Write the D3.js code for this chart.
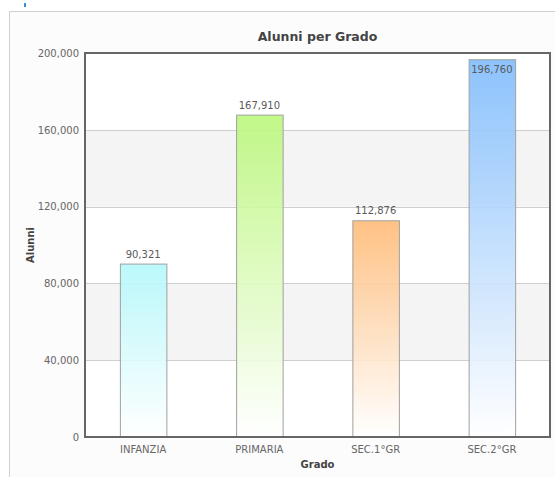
<!DOCTYPE html>
<html>
<head>
<meta charset="utf-8">
<script src="https://cdn.jsdelivr.net/npm/d3@7"></script>
<style>
  body { margin: 0; background: #fff; }
  text { font-family: "DejaVu Sans", Verdana, sans-serif; }
</style>
</head>
<body>
<div id="chart"></div>
<script>
// Data
const categories = ["INFANZIA", "PRIMARIA", "SEC.1°GR", "SEC.2°GR"];
const values = [90321, 167910, 112876, 196760];
const topColors = ["#b4f8fb", "#bbf77c", "#ffbb77", "#80bcfc"];
const yTicks = [0, 40000, 80000, 120000, 160000, 200000];

const width = 555, height = 477;
const plot = { left: 85, right: 550, top: 53, bottom: 437 };

const svg = d3.select("#chart").append("svg")
    .attr("width", width)
    .attr("height", height);

// panel
svg.append("rect")
    .attr("x", 9.5).attr("y", 11.5)
    .attr("width", width).attr("height", height)
    .attr("fill", "#fcfcfc")
    .attr("stroke", "#d0d0d0");
svg.append("rect")
    .attr("x", 24).attr("y", 3).attr("width", 2).attr("height", 4)
    .attr("fill", "#3a8fd8");

const x = d3.scaleBand()
    .domain(categories)
    .range([plot.left, plot.right])
    .paddingInner(0.6)
    .paddingOuter(0.3);

const y = d3.scaleLinear()
    .domain([0, 200000])
    .range([plot.bottom, plot.top]);

// plot background + bands
svg.append("rect")
    .attr("x", plot.left).attr("y", plot.top)
    .attr("width", plot.right - plot.left).attr("height", plot.bottom - plot.top)
    .attr("fill", "#fff");

const bands = [[40000, 80000], [120000, 160000]];
svg.selectAll(".band").data(bands).join("rect")
    .attr("class", "band")
    .attr("x", plot.left)
    .attr("width", plot.right - plot.left)
    .attr("y", d => y(d[1]))
    .attr("height", d => y(d[0]) - y(d[1]))
    .attr("fill", "#f4f4f4");

svg.selectAll(".grid").data(yTicks.slice(1, -1)).join("line")
    .attr("class", "grid")
    .attr("x1", plot.left).attr("x2", plot.right)
    .attr("y1", d => Math.round(y(d)) + 0.5).attr("y2", d => Math.round(y(d)) + 0.5)
    .attr("stroke", "#cfcfcf");

// gradients
const defs = svg.append("defs");
topColors.forEach((c, i) => {
    const g = defs.append("linearGradient")
        .attr("id", "grad" + i)
        .attr("x1", 0).attr("y1", 0).attr("x2", 0).attr("y2", 1);
    g.append("stop").attr("offset", "0%").attr("stop-color", c);
    g.append("stop").attr("offset", "100%").attr("stop-color", "#fff");
});

const data = categories.map((c, i) => ({ cat: c, val: values[i], i }));

svg.selectAll(".bar").data(data).join("rect")
    .attr("class", "bar")
    .attr("x", d => x(d.cat) + 0.5)
    .attr("y", d => y(d.val) + 0.5)
    .attr("width", x.bandwidth())
    .attr("height", d => y(0) - y(d.val))
    .attr("fill", d => `url(#grad${d.i})`)
    .attr("fill-opacity", 0.9)
    .attr("stroke", "#a0a0a0");

svg.selectAll(".lbl").data(data).join("text")
    .attr("class", "lbl")
    .attr("x", d => x(d.cat) + x.bandwidth() / 2)
    .attr("y", d => y(d.val) > plot.top + 20 ? y(d.val) - 6 : y(d.val) + 14)
    .attr("text-anchor", "middle")
    .attr("font-size", 10)
    .attr("fill", "#5a5a5a")
    .text(d => d3.format(",")(d.val));

// frame
svg.append("rect")
    .attr("x", plot.left).attr("y", plot.top)
    .attr("width", plot.right - plot.left).attr("height", plot.bottom - plot.top)
    .attr("fill", "none")
    .attr("stroke", "#666")
    .attr("stroke-width", 2);

// axes
const yAxis = svg.append("g")
    .attr("transform", `translate(${plot.left},0)`)
    .call(d3.axisLeft(y).tickValues(yTicks).tickFormat(d3.format(",")).tickSize(0).tickPadding(6));
yAxis.select(".domain").remove();
yAxis.selectAll("text").attr("font-size", 10).attr("fill", "#666")
    .attr("font-family", "DejaVu Sans");

const xAxis = svg.append("g")
    .attr("transform", `translate(0,${plot.bottom})`)
    .call(d3.axisBottom(x).tickSize(0).tickPadding(9));
xAxis.select(".domain").remove();
xAxis.selectAll("text").attr("font-size", 10).attr("fill", "#666")
    .attr("font-family", "DejaVu Sans");

// titles
svg.append("text")
    .attr("x", (plot.left + plot.right) / 2)
    .attr("y", 41)
    .attr("text-anchor", "middle")
    .attr("font-size", 12.5)
    .attr("font-weight", "bold")
    .attr("fill", "#444")
    .text("Alunni per Grado");

svg.append("text")
    .attr("x", (plot.left + plot.right) / 2)
    .attr("y", 468)
    .attr("text-anchor", "middle")
    .attr("font-size", 10)
    .attr("font-weight", "bold")
    .attr("fill", "#444")
    .text("Grado");

svg.append("text")
    .attr("transform", `translate(34,${(plot.top + plot.bottom) / 2}) rotate(-90)`)
    .attr("text-anchor", "middle")
    .attr("font-size", 10)
    .attr("font-weight", "bold")
    .attr("fill", "#444")
    .text("Alunni");
</script>
</body>
</html>
